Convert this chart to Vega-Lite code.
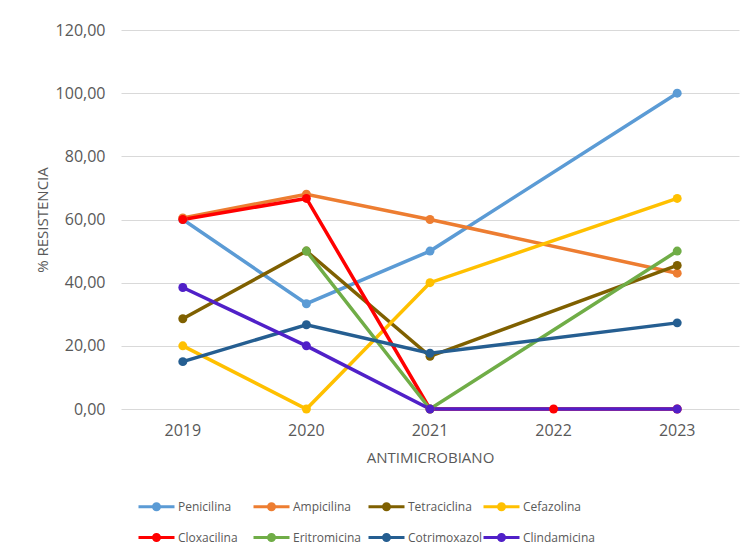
{
  "$schema": "https://vega.github.io/schema/vega-lite/v6.json",
  "width": 618,
  "height": 379,
  "autosize": {"type": "none"},
  "padding": {"left": 121, "top": 30, "right": 13, "bottom": 147},
  "background": "white",
  "config": {
    "view": {"stroke": null},
    "font": "Open Sans",
    "axis": {"labelColor": "#595959", "titleColor": "#595959", "labelFontSize": 16, "titleFontSize": 15, "titleFontWeight": "normal", "domain": false, "ticks": false, "tickSize": 0},
    "legend": {"labelColor": "#595959", "labelFontSize": 12, "padding": 0}
  },
  "data": {
    "values": [
      {"serie": "Penicilina", "anio": "2019", "valor": 60},
      {"serie": "Penicilina", "anio": "2020", "valor": 33.33},
      {"serie": "Penicilina", "anio": "2021", "valor": 50},
      {"serie": "Penicilina", "anio": "2023", "valor": 100},
      {"serie": "Ampicilina", "anio": "2019", "valor": 60.5},
      {"serie": "Ampicilina", "anio": "2020", "valor": 68},
      {"serie": "Ampicilina", "anio": "2021", "valor": 60},
      {"serie": "Ampicilina", "anio": "2023", "valor": 43},
      {"serie": "Tetraciclina", "anio": "2019", "valor": 28.57},
      {"serie": "Tetraciclina", "anio": "2020", "valor": 50},
      {"serie": "Tetraciclina", "anio": "2021", "valor": 16.67},
      {"serie": "Tetraciclina", "anio": "2023", "valor": 45.45},
      {"serie": "Cefazolina", "anio": "2019", "valor": 20},
      {"serie": "Cefazolina", "anio": "2020", "valor": 0},
      {"serie": "Cefazolina", "anio": "2021", "valor": 40},
      {"serie": "Cefazolina", "anio": "2023", "valor": 66.67},
      {"serie": "Cloxacilina", "anio": "2019", "valor": 60},
      {"serie": "Cloxacilina", "anio": "2020", "valor": 66.67},
      {"serie": "Cloxacilina", "anio": "2021", "valor": 0},
      {"serie": "Cloxacilina", "anio": "2022", "valor": 0},
      {"serie": "Cloxacilina", "anio": "2023", "valor": 0},
      {"serie": "Eritromicina", "anio": "2020", "valor": 50},
      {"serie": "Eritromicina", "anio": "2021", "valor": 0},
      {"serie": "Eritromicina", "anio": "2023", "valor": 50},
      {"serie": "Cotrimoxazol", "anio": "2019", "valor": 15},
      {"serie": "Cotrimoxazol", "anio": "2020", "valor": 26.67},
      {"serie": "Cotrimoxazol", "anio": "2021", "valor": 17.65},
      {"serie": "Cotrimoxazol", "anio": "2023", "valor": 27.27},
      {"serie": "Clindamicina", "anio": "2019", "valor": 38.46},
      {"serie": "Clindamicina", "anio": "2020", "valor": 20},
      {"serie": "Clindamicina", "anio": "2021", "valor": 0},
      {"serie": "Clindamicina", "anio": "2023", "valor": 0}
    ]
  },
  "encoding": {
    "x": {"field": "anio", "type": "ordinal", "scale": {"domain": ["2019", "2020", "2021", "2022", "2023"], "type": "band", "paddingInner": 0, "paddingOuter": 0}, "axis": {"labelAngle": 0, "labelPadding": 13, "title": "ANTIMICROBIANO", "titlePadding": 12, "grid": false}, "bandPosition": 0.5},
    "y": {"field": "valor", "type": "quantitative", "scale": {"domain": [0, 120]}, "axis": {"values": [0, 20, 40, 60, 80, 100, 120], "labelExpr": "replace(format(datum.value, '.2f'), '.', ',')", "labelPadding": 16, "title": "% RESISTENCIA", "titlePadding": 5, "grid": true, "gridColor": "#D9D9D9", "gridWidth": 1}},
    "color": {
      "field": "serie", "type": "nominal",
      "scale": {
        "domain": ["Penicilina", "Ampicilina", "Tetraciclina", "Cefazolina", "Cloxacilina", "Eritromicina", "Cotrimoxazol", "Clindamicina"],
        "range": ["#5B9BD5", "#ED7D31", "#7F6000", "#FFC000", "#FF0000", "#70AD47", "#255E91", "#5020C8"]
      },
      "legend": {
        "orient": "none", "legendX": 28, "legendY": 469, "columns": 4, "direction": "horizontal", "title": null,
        "symbolType": "M-3,0H3M0.5,0A0.5,0.5,0,1,1,-0.5,0A0.5,0.5,0,1,1,0.5,0",
        "symbolSize": 144, "symbolStrokeWidth": 3, "labelOffset": 14, "columnPadding": -6, "rowPadding": 12, "gridAlign": "all",
        "encode": {"symbols": {"update": {"fill": {"scale": "color", "field": "value"}}}}
      }
    }
  },
  "layer": [
    {"mark": {"type": "line", "strokeWidth": 3.5}},
    {"mark": {"type": "point", "filled": true, "opacity": 1, "size": 80}}
  ]
}
